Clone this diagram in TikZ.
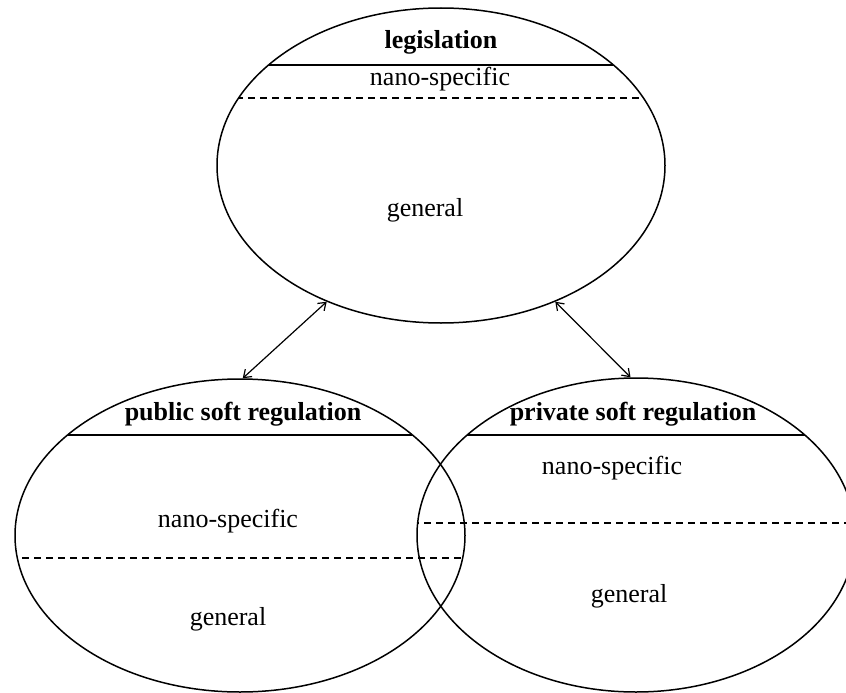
\documentclass[tikz,border=0pt]{standalone}
\usepackage{fontspec}
\setmainfont{Liberation Serif}
\usetikzlibrary{shapes.geometric,arrows.meta}
\begin{document}
\begin{tikzpicture}[x=1pt,y=-1pt,
  oval/.style={ellipse,draw,line width=1.5pt,inner sep=0pt},
  sep/.style={line width=1.5pt},
  dsep/.style={line width=1.5pt,dash pattern=on 7pt off 5pt},
  lbl/.style={font=\fontsize{26}{30}\selectfont},
  ttl/.style={font=\fontsize{26}{30}\selectfont\bfseries},
  link/.style={line width=1.2pt,{Straight Barb[length=7pt,width=10pt]}-{Straight Barb[length=7pt,width=10pt]}}]
\useasboundingbox (0,0) rectangle (846,693);
% ellipses
\node[oval,minimum width=448pt,minimum height=315pt] (L) at (441,165.5) {};
\node[oval,minimum width=450pt,minimum height=313pt] (P) at (240,535.5) {};
\node[oval,minimum width=438pt,minimum height=314pt] (R) at (636,535) {};
% dividing lines
\begin{scope}
  \clip (441,165.5) ellipse [x radius=224, y radius=157.5];
  \draw[sep] (200,65) -- (700,65);
  \draw[dsep] (200,98) -- (700,98);
\end{scope}
\begin{scope}
  \clip (240,535.5) ellipse [x radius=225, y radius=156.5];
  \draw[sep] (0,435) -- (480,435);
  \draw[dsep] (10,558) -- (480,558);
\end{scope}
\begin{scope}
  \clip (636,535) ellipse [x radius=219, y radius=157];
  \draw[sep] (400,435) -- (870,435);
  \draw[dsep] (412,523) -- (870,523);
\end{scope}
% texts
\node[ttl] (lt) at (441,42) {legislation};
\node[lbl] (ln) at (440,79) {nano-specific};
\node[lbl] (lg) at (425,210) {general};
\node[ttl] (pt) at (243,414) {public soft regulation};
\node[lbl] (pn) at (228,521) {nano-specific};
\node[lbl] (pg) at (228,619) {general};
\node[ttl] (rt) at (633,414) {private soft regulation};
\node[lbl] (rn) at (612,468) {nano-specific};
\node[lbl] (rg) at (629,596) {general};
% connectors
\draw[link] (L.230) -- (P.89.5);
\draw[link] (L.310.4) -- (R.92);
\end{tikzpicture}
\end{document}
